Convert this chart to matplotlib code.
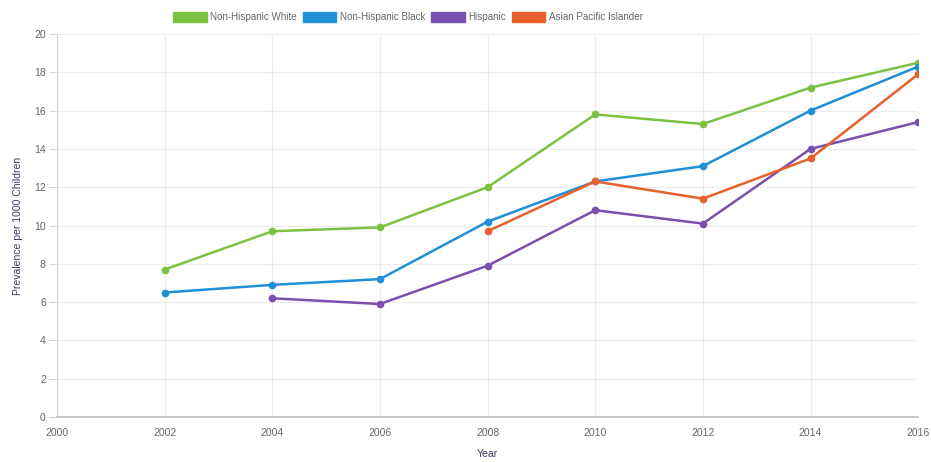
import matplotlib
matplotlib.use("Agg")
import matplotlib.pyplot as plt
from matplotlib.patches import Patch
import numpy as np

plt.rcParams['font.family'] = ['Liberation Sans', 'DejaVu Sans']

years = [2002, 2004, 2006, 2008, 2010, 2012, 2014, 2016]
white = [7.7, 9.7, 9.9, 12.0, 15.8, 15.3, 17.2, 18.5]
black = [6.5, 6.9, 7.2, 10.2, 12.3, 13.1, 16.0, 18.3]
hispanic = [np.nan, 6.2, 5.9, 7.9, 10.8, 10.1, 14.0, 15.4]
asian_pi = [np.nan, np.nan, np.nan, 9.7, 12.3, 11.4, 13.5, 17.9]

series_names = ["Non-Hispanic White", "Non-Hispanic Black", "Hispanic", "Asian Pacific Islander"]
series_values = [white, black, hispanic, asian_pi]
colors = ["#7cc242", "#1f8fd8", "#7a50ae", "#e8602b"]

x_ticks = list(range(2000, 2017, 2))
y_ticks = list(range(0, 21, 2))

fig = plt.figure(figsize=(9.31, 4.62), dpi=100)
ax = fig.add_axes([0.0612, 0.0974, 0.925, 0.829])

for name, vals, c in zip(series_names, series_values, colors):
    ax.plot(years, vals, color=c, lw=1.8, marker="o", markersize=4.5,
            markeredgecolor=c, label=name, zorder=3)

ax.set_xlim(2000, 2016)
ax.set_ylim(0, 20)
ax.set_xticks(x_ticks)
ax.set_yticks(y_ticks)
ax.grid(True, color="#ececec", lw=0.8, zorder=0)
ax.set_axisbelow(True)

for side in ["top", "right"]:
    ax.spines[side].set_visible(False)
ax.spines["left"].set_color("#d5d5d5")
ax.spines["bottom"].set_color("#bdbdbd")
ax.spines["bottom"].set_linewidth(1.2)

ax.tick_params(axis="y", length=6, color="#d5d5d5", labelsize=7.5, labelcolor="#666666", pad=2)
ax.tick_params(axis="x", length=0, labelsize=7.5, labelcolor="#666666", pad=8)

ax.set_xlabel("Year", fontsize=7.5, color="#3b3a63", labelpad=8)
ax.set_ylabel("Prevalence per 1000 Children", fontsize=7.5, color="#3b3a63", labelpad=8)

handles = [Patch(facecolor=c, edgecolor=c) for c in colors]
fig.legend(handles, series_names, loc="center", bbox_to_anchor=(0.438, 0.963), ncol=4,
           frameon=False, fontsize=7.1, handlelength=3.4, handleheight=1.2,
           handletextpad=0.35, columnspacing=0.6, labelcolor="#666666")

fig.savefig("out.png", dpi=100)
